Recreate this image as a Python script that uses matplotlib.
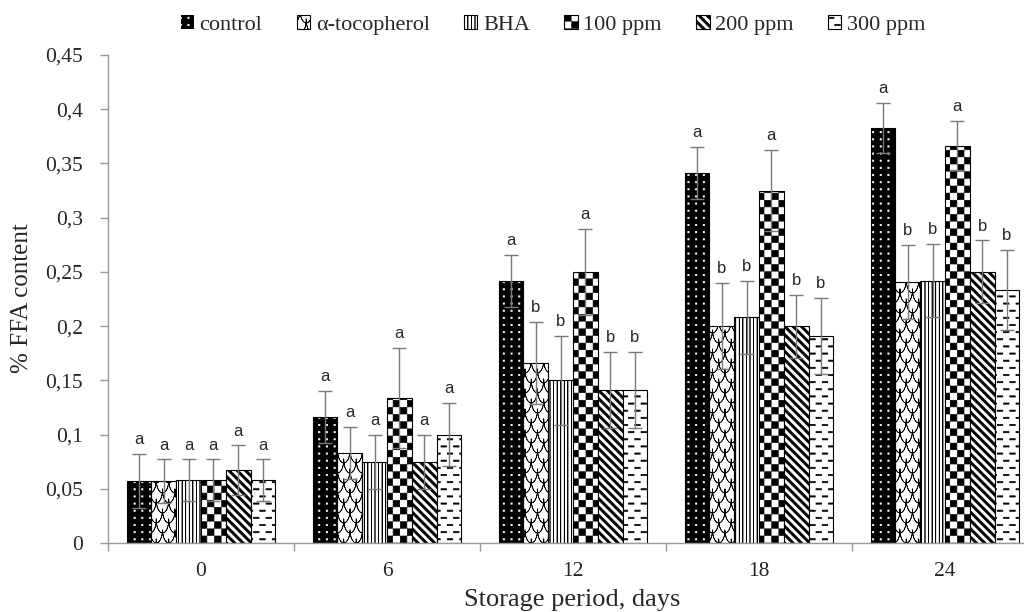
import numpy as np
import matplotlib
matplotlib.use("Agg")
import matplotlib.pyplot as plt
import matplotlib.hatch as mhatch
from matplotlib.path import Path
from matplotlib.patches import Patch

# ---------------- data ----------------
days = ["0", "6", "12", "18", "24"]
treatments = ["control", "α-tocopherol", "BHA", "100 ppm", "200 ppm", "300 ppm"]

ffa_control = [0.0575, 0.1165, 0.2415, 0.341, 0.383]
ffa_tocopherol = [0.057, 0.083, 0.166, 0.200, 0.241]
ffa_bha = [0.058, 0.075, 0.150, 0.208, 0.242]
ffa_100 = [0.058, 0.134, 0.250, 0.325, 0.3665]
ffa_200 = [0.067, 0.075, 0.1415, 0.200, 0.250]
ffa_300 = [0.058, 0.100, 0.1415, 0.191, 0.2334]

err_control = [0.025, 0.024, 0.024, 0.024, 0.023]
err_tocopherol = [0.020, 0.024, 0.038, 0.040, 0.034]
err_bha = [0.019, 0.025, 0.041, 0.034, 0.034]
err_100 = [0.019, 0.046, 0.040, 0.0375, 0.023]
err_200 = [0.023, 0.025, 0.035, 0.029, 0.029]
err_300 = [0.019, 0.029, 0.035, 0.035, 0.037]

letters_control = ["a", "a", "a", "a", "a"]
letters_tocopherol = ["a", "a", "b", "b", "b"]
letters_bha = ["a", "a", "b", "b", "b"]
letters_100 = ["a", "a", "a", "a", "a"]
letters_200 = ["a", "a", "b", "b", "b"]
letters_300 = ["a", "a", "b", "b", "b"]

yticks = [0, 0.05, 0.1, 0.15, 0.2, 0.25, 0.3, 0.35, 0.4, 0.45]
ytick_labels = ["0", "0,05", "0,1", "0,15", "0,2", "0,25", "0,3", "0,35", "0,4", "0,45"]

values = [ffa_control, ffa_tocopherol, ffa_bha, ffa_100, ffa_200, ffa_300]
errors = [err_control, err_tocopherol, err_bha, err_100, err_200, err_300]
letters = [letters_control, letters_tocopherol, letters_bha, letters_100, letters_200, letters_300]

# ---------------- custom hatch patterns ----------------
plt.rcParams["hatch.linewidth"] = 0.5


def _rect(x0, y0, w, h):
    v = [(x0, y0), (x0 + w, y0), (x0 + w, y0 + h), (x0, y0 + h), (x0, y0)]
    c = [Path.MOVETO, Path.LINETO, Path.LINETO, Path.LINETO, Path.CLOSEPOLY]
    return v, c


def _polyline(pts):
    pts = [tuple(p) for p in pts]
    v = pts + pts[::-1][1:]
    c = [Path.MOVETO] + [Path.LINETO] * (len(v) - 1)
    return v, c


def _poly(pts):
    pts = [tuple(p) for p in pts]
    v = pts + [pts[0]]
    c = [Path.MOVETO] + [Path.LINETO] * (len(pts) - 1) + [Path.CLOSEPOLY]
    return v, c


class _Tile(mhatch.HatchPatternBase):
    char = ""

    def __init__(self, hatch, density):
        if self.char and hatch and self.char in hatch:
            verts, codes = [], []
            for v, c in self.parts():
                verts += v
                codes += c
            self._v = np.array(verts, float)
            self._c = np.array(codes, dtype=Path.code_type)
            self.num_vertices = len(self._v)
        else:
            self.num_vertices = 0

    def parts(self):
        return []

    def set_vertices_and_codes(self, vertices, codes):
        vertices[:] = self._v
        codes[:] = self._c


class Dots(_Tile):
    char = "."

    def parts(self):
        nc, nr, s = 13, 14, 0.013
        for i in range(nc):
            for j in range(nr):
                yield _rect((i + 0.5) / nc - s / 2, (j + 0.5) / nr - s / 2, s, s)


class Scales(_Tile):
    char = "o"

    def parts(self):
        nc, nr = 8, 10
        R, Rv = 0.5 / nc, 1.3 / nr
        t = np.linspace(0, np.pi, 12)
        for j in range(-1, nr + 2):
            for i in range(-1, nc + 2):
                cx = (i + 0.5 * (j % 2)) / nc
                cy = j / nr
                pts = np.column_stack([cx + R * np.cos(t), cy - Rv * np.sin(t)])
                yield _polyline(pts)


class VLines(_Tile):
    char = "|"

    def parts(self):
        n = 28
        for k in range(n + 1):
            yield _polyline([(k / n, -0.05), (k / n, 1.05)])


class Checker(_Tile):
    char = "+"

    def parts(self):
        n = 14
        d = 1.0 / n
        s = d - 0.006
        for i in range(n):
            for j in range(n):
                if (i + j) % 2 == 0:
                    yield _rect(i * d + 0.003, j * d + 0.003, s, s)


class Stripes(_Tile):
    char = "\\"

    def parts(self):
        n = 12
        h = 0.016
        for k in range(-2, 2 * n + 3):
            c = k / n
            yield _poly([(-1, c - h + 1), (c - h + 1, -1), (c + h + 1, -1), (-1, c + h + 1)])


class Dashes(_Tile):
    char = "-"

    def parts(self):
        nc, nr = 8, 14
        w, h = 0.055, 0.012
        for j in range(nr):
            for i in range(-1, nc + 1):
                cx = (i + 0.5 * (j % 2)) / nc
                cy = (j + 0.5) / nr
                yield _rect(cx - w / 2, cy - h / 2, w, h)


mhatch._hatch_types[:] = [Dots, Scales, VLines, Checker, Stripes, Dashes]

hatches = [".", "o", "|", "+", "\\", "-"]

# ---------------- figure ----------------
serif = ["Liberation Serif", "DejaVu Serif"]
plt.rcParams["font.family"] = serif
text_color = "#262626"
axis_color = "#9a9a9a"

fig = plt.figure(figsize=(10.24, 6.12), dpi=100)
ax = fig.add_axes([108 / 1024, 69 / 612, 930 / 1024, 488 / 612])

n_groups = len(days)
n_series = len(treatments)
x = np.arange(n_groups)
bar_w = 0.80 / n_series

for s in range(n_series):
    xs = x + (s - (n_series - 1) / 2) * bar_w
    if s == 0:
        ax.bar(xs, values[s], width=bar_w, facecolor="black", edgecolor="white",
               hatch=hatches[s], linewidth=0, zorder=2)
        ax.bar(xs, values[s], width=bar_w, fill=False, edgecolor="black",
               linewidth=0.8, zorder=2.1)
    else:
        ax.bar(xs, values[s], width=bar_w, facecolor="white", edgecolor="black",
               hatch=hatches[s], linewidth=0.8, zorder=2)
    ax.errorbar(xs, values[s], yerr=errors[s], fmt="none", ecolor="#7a7a7a",
                elinewidth=1.0, capsize=5, capthick=1.0, zorder=3)
    for xi, v, e, lab in zip(xs, values[s], errors[s], letters[s]):
        ax.annotate(lab, (xi, v + e), xytext=(0, 7), textcoords="offset points",
                    ha="center", va="baseline", fontsize=12,
                    family=["Liberation Sans", "DejaVu Sans"], color=text_color,
                    zorder=4)

ax.set_xlim(-0.5, n_groups - 0.5)
ax.set_ylim(0, 0.45)
ax.set_yticks(yticks)
ax.set_yticklabels(ytick_labels)

ax.set_xticks(np.arange(n_groups + 1) - 0.5)
ax.set_xticklabels([])
ax.set_xticks(x, minor=True)
ax.set_xticklabels(days, minor=True)
ax.tick_params(axis="x", which="minor", length=0, pad=14)
ax.tick_params(axis="x", which="major", length=6, width=1, color=axis_color)
ax.tick_params(axis="y", length=6, width=1, color=axis_color, pad=12)
ax.tick_params(axis="both", which="both", labelsize=15.5, labelcolor=text_color)

for side in ["top", "right"]:
    ax.spines[side].set_visible(False)
for side in ["left", "bottom"]:
    ax.spines[side].set_color(axis_color)
    ax.spines[side].set_linewidth(1.0)
ax.spines["left"].set_zorder(5)

fig.text(22 / 1024, 1 - 298 / 612, "% FFA content", rotation=90, ha="center",
         va="center", fontsize=18, color=text_color)
fig.text(572 / 1024, 1 - 600 / 612, "Storage period, days", ha="center",
         va="center", fontsize=19, color=text_color)

handles = []
for s in range(n_series):
    if s == 0:
        handles.append(Patch(facecolor="black", edgecolor="white", hatch=hatches[s],
                             linewidth=0))
    else:
        handles.append(Patch(facecolor="white", edgecolor="black", hatch=hatches[s],
                             linewidth=0.8))
fig.legend(handles, treatments, loc="center", bbox_to_anchor=(553 / 1024, 1 - 25 / 612),
           ncol=n_series, frameon=False, fontsize=16, handlelength=0.6,
           handleheight=0.6, handletextpad=0.25, columnspacing=1.55,
           labelcolor=text_color)

fig.savefig("out.png", dpi=100)
